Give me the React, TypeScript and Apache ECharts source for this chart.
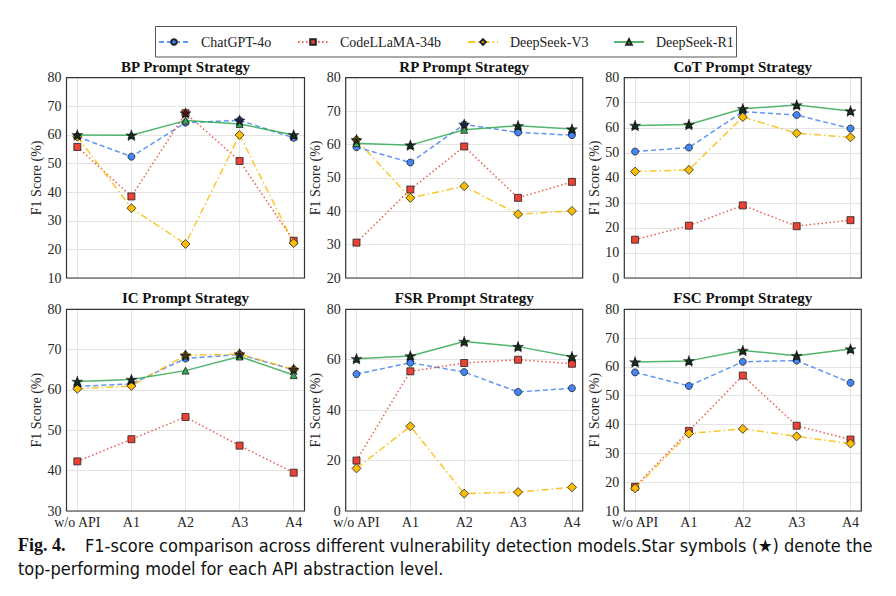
import React, { useEffect, useRef } from "react";
import * as echarts from "echarts";

const categories = ["w/o API", "A1", "A2", "A3", "A4"];
const models = ["ChatGPT-4o", "CodeLLaMA-34b", "DeepSeek-V3", "DeepSeek-R1"];
const panelTitles = [
  "BP Prompt Strategy",
  "RP Prompt Strategy",
  "CoT Prompt Strategy",
  "IC Prompt Strategy",
  "FSR Prompt Strategy",
  "FSC Prompt Strategy",
];

// BP
const bpGPT = [59.4, 52.4, 64.3, 65.1, 59.0];
const bpLlama = [55.8, 38.5, 67.6, 50.9, 23.0];
const bpV3 = [59.4, 34.4, 21.9, 60.0, 22.2];
const bpR1 = [60.0, 59.9, 65.0, 63.8, 60.0];
// RP
const rpGPT = [59.2, 54.6, 66.0, 63.6, 62.8];
const rpLlama = [30.6, 46.5, 59.4, 44.0, 48.8];
const rpV3 = [61.4, 44.0, 47.5, 39.1, 40.1];
const rpR1 = [60.4, 59.8, 64.4, 65.6, 64.6];
// CoT
const cotGPT = [50.5, 52.1, 66.4, 65.1, 59.7];
const cotLlama = [15.3, 20.9, 29.0, 20.7, 23.1];
const cotV3 = [42.5, 43.2, 64.3, 57.8, 56.2];
const cotR1 = [60.9, 61.3, 67.6, 69.1, 66.7];
// IC
const icGPT = [60.9, 61.5, 67.8, 68.8, 65.0];
const icLlama = [42.3, 47.8, 53.3, 46.2, 39.5];
const icV3 = [60.3, 61.0, 68.6, 68.9, 65.1];
const icR1 = [62.1, 62.6, 64.8, 68.3, 63.7];
// FSR
const fsrGPT = [54.3, 58.8, 55.1, 47.2, 48.7];
const fsrLlama = [20.0, 55.4, 58.7, 60.0, 58.4];
const fsrV3 = [16.9, 33.6, 6.9, 7.5, 9.4];
const fsrR1 = [60.4, 61.5, 67.2, 65.2, 61.2];
// FSC
const fscGPT = [58.1, 53.4, 61.8, 62.2, 54.5];
const fscLlama = [18.4, 37.8, 57.0, 39.6, 34.8];
const fscV3 = [17.9, 36.9, 38.5, 35.9, 33.4];
const fscR1 = [61.7, 62.1, 65.7, 63.9, 66.2];

const panelData = [
  [bpGPT, bpLlama, bpV3, bpR1],
  [rpGPT, rpLlama, rpV3, rpR1],
  [cotGPT, cotLlama, cotV3, cotR1],
  [icGPT, icLlama, icV3, icR1],
  [fsrGPT, fsrLlama, fsrV3, fsrR1],
  [fscGPT, fscLlama, fscV3, fscR1],
];

const yMins = [10, 20, 0, 30, 0, 10];
const yMaxs = [80, 80, 80, 80, 80, 80];
const yIntervals = [10, 10, 10, 10, 20, 10];

const yAxisName = "F1 Score (%)";
const captionLabel = "Fig. 4.";
const captionLine1 =
  "F1-score comparison across different vulnerability detection models.Star symbols (\u2605) denote the";
const captionLine2 = "top-performing model for each API abstraction level.";

// ---- styling / layout ----
const SERIF = "Liberation Serif, DejaVu Serif, serif";
const NARROW = "Liberation Sans Narrow, DejaVu Sans Condensed, Liberation Sans, sans-serif";
const colors = ["#4285F4", "#EA4335", "#FBBC05", "#34A853"];
const symbols = ["circle", "rect", "diamond", "triangle"];
const symbolSizes: any[] = [7, 7, [9, 9], 7];
const lineTypes: any[] = [[5, 3], [1.5, 2.5], [7, 3, 1.5, 3], "solid"];
const STAR =
  "path://M50,0 L61.2,34.5 L97.6,34.5 L68.2,55.9 L79.4,90.5 L50,69.1 L20.6,90.5 L31.8,55.9 L2.4,34.5 L38.8,34.5 Z";

const colLefts = [66.5, 345.7, 624.3];
const colWidths = [238, 237, 237];
const rowTops = [77.7, 309.3];
const rowHeights = [200.3, 201.7];

function buildOption() {
  const grid: any[] = [];
  const xAxis: any[] = [];
  const yAxis: any[] = [];
  const title: any[] = [];
  const series: any[] = [];

  for (let p = 0; p < 6; p++) {
    const col = p % 3;
    const row = Math.floor(p / 3);
    const left = colLefts[col];
    const width = colWidths[col];
    const top = rowTops[row];
    const height = rowHeights[row];
    grid.push({
      left,
      top,
      width,
      height,
      show: true,
      borderColor: "#333",
      borderWidth: 1.2,
      backgroundColor: "transparent",
      containLabel: false,
      outerBoundsMode: "none",
      z: 1,
    });
    xAxis.push({
      type: "value",
      gridIndex: p,
      min: -0.2,
      max: 4.2,
      minInterval: 1,
      maxInterval: 1,
      axisLine: { show: false },
      axisTick: { show: false },
      splitLine: { show: true, lineStyle: { color: "#e4e4e4", width: 1 } },
      axisLabel: {
        show: row === 1,
        margin: 4,
        fontFamily: SERIF,
        fontSize: 14,
        color: "#262626",
        showMinLabel: false,
        showMaxLabel: false,
        formatter: (v: number) => {
          const r = Math.round(v);
          if (Math.abs(v - r) < 1e-6 && r >= 0 && r < categories.length) return categories[r];
          return "";
        },
      },
    });
    yAxis.push({
      type: "value",
      gridIndex: p,
      min: yMins[p],
      max: yMaxs[p],
      interval: yIntervals[p],
      name: yAxisName,
      nameLocation: "middle",
      nameGap: 23,
      nameRotate: 90,
      nameTextStyle: { fontFamily: SERIF, fontSize: 14, color: "#262626" },
      axisLine: { show: false },
      axisTick: { show: false },
      splitLine: { show: true, lineStyle: { color: "#e4e4e4", width: 1 } },
      axisLabel: { margin: 5, fontFamily: SERIF, fontSize: 14, color: "#262626" },
    });
    title.push({
      text: panelTitles[p],
      left: left + width / 2,
      top: row === 0 ? 59 : 290.5,
      textAlign: "center",
      padding: 0,
      textStyle: { fontFamily: SERIF, fontWeight: "bold", fontSize: 15, color: "#111" },
    });

    const vals = panelData[p];
    for (let m = 0; m < 4; m++) {
      series.push({
        type: "line",
        name: models[m],
        xAxisIndex: p,
        yAxisIndex: p,
        data: vals[m].map((v, k) => [k, v]),
        symbol: symbols[m],
        symbolSize: symbolSizes[m],
        showAllSymbol: true,
        lineStyle: { color: colors[m], width: 1.5, type: lineTypes[m], opacity: 0.85 },
        itemStyle: { color: colors[m], borderColor: "#222", borderWidth: 0.8 },
        emphasis: { disabled: true },
        z: 2 + m * 0.1,
      });
    }
    // best model star per API level
    series.push({
      type: "scatter",
      name: "best",
      xAxisIndex: p,
      yAxisIndex: p,
      data: categories.map((_, k) => [k, Math.max(vals[0][k], vals[1][k], vals[2][k], vals[3][k])]),
      symbol: STAR,
      symbolSize: 11,
      itemStyle: { color: "#111", borderColor: "#000", borderWidth: 0.5 },
      emphasis: { disabled: true },
      z: 5,
    });
  }

  const legendLefts = [158, 297, 467, 613];
  const legend = models.map((name, m) => ({
    data: [name],
    left: legendLefts[m],
    top: 35,
    padding: 0,
    itemWidth: 30,
    itemHeight: 7,
    selectedMode: false,
    textStyle: { fontFamily: SERIF, fontSize: 14, color: "#222", padding: [0, 0, 0, 7] },
  }));

  const graphic: any[] = [
    {
      type: "rect",
      shape: { x: 155.5, y: 26.5, width: 581, height: 30.5 },
      style: { fill: "none", stroke: "#555", lineWidth: 1 },
      z: 10,
    },
    {
      type: "text",
      x: 18,
      y: 545,
      style: {
        text: captionLabel,
        fontFamily: SERIF,
        fontWeight: "bold",
        fontSize: 18,
        fill: "#111",
        verticalAlign: "middle",
      },
    },
    {
      type: "text",
      x: 85,
      y: 545,
      style: {
        text: captionLine1,
        fontFamily: NARROW,
        fontSize: 18,
        fill: "#111",
        verticalAlign: "middle",
      },
    },
    {
      type: "text",
      x: 18,
      y: 568,
      style: {
        text: captionLine2,
        fontFamily: NARROW,
        fontSize: 18,
        fill: "#111",
        verticalAlign: "middle",
      },
    },
  ];

  return {
    animation: false,
    backgroundColor: "#fff",
    title,
    legend,
    grid,
    xAxis,
    yAxis,
    series,
    graphic,
  };
}

export default function App() {
  const ref = useRef<HTMLDivElement>(null);
  useEffect(() => {
    if (!ref.current) return;
    const chart = echarts.init(ref.current, null, { renderer: "svg" });
    chart.setOption(buildOption() as any);
    return () => {
      chart.dispose();
    };
  }, []);
  return (
    <div
      ref={ref}
      style={{ position: "fixed", left: 0, top: 0, width: 896, height: 596, background: "#fff" }}
    />
  );
}
